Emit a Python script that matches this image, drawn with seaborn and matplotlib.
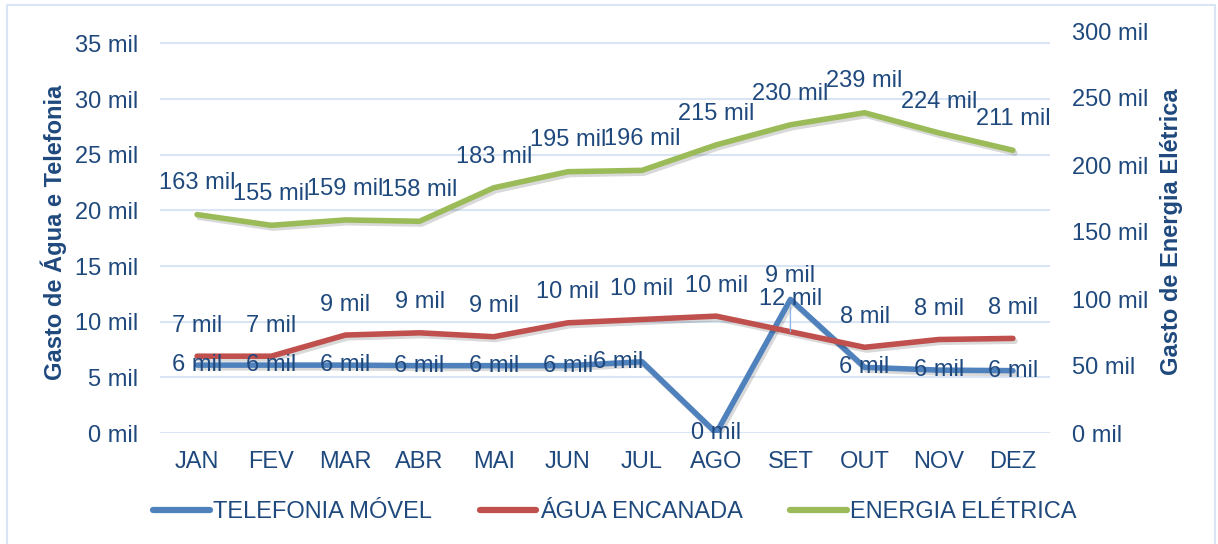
import numpy as np
import pandas as pd
import matplotlib
matplotlib.use("Agg")
import matplotlib.pyplot as plt
import matplotlib.patheffects as pe
from matplotlib.patches import Rectangle
import seaborn as sns

MESES = ["JAN", "FEV", "MAR", "ABR", "MAI", "JUN", "JUL", "AGO", "SET", "OUT", "NOV", "DEZ"]
TELEFONIA = [6.1, 6.1, 6.1, 6.05, 6.05, 6.05, 6.4, 0.0, 12.0, 5.9, 5.65, 5.6]
AGUA = [6.9, 6.9, 8.8, 9.0, 8.65, 9.9, 10.2, 10.5, 9.1, 7.7, 8.4, 8.5]
ENERGIA = [163, 155, 159, 158, 183, 195, 196, 215, 230, 239, 224, 211]

LEFT_TICKS = [0, 5, 10, 15, 20, 25, 30, 35]
RIGHT_TICKS = [0, 50, 100, 150, 200, 250, 300]

AZUL = "#4F81BD"
VERMELHO = "#C0504D"
VERDE = "#9BBB59"
TEXTO = "#1F497D"
GRADE = "#D9E5F4"
FS = 17

sns.set_theme(style="white")
plt.rcParams["font.family"] = ["Liberation Sans", "DejaVu Sans"]

df = pd.DataFrame({"mes": MESES, "x": np.arange(len(MESES)),
                   "tel": TELEFONIA, "agua": AGUA, "energia": ENERGIA})

fig = plt.figure(figsize=(12.18, 5.44), dpi=100)
ax = fig.add_axes([160 / 1218, 1 - 433 / 544, 890 / 1218, 402 / 544])
ax2 = ax.twinx()

sombra = [pe.SimpleLineShadow(offset=(1.5, -2), alpha=0.15, shadow_color="black"), pe.Normal()]

sns.lineplot(data=df, x="x", y="tel", ax=ax, color=AZUL, lw=4, label="TELEFONIA MÓVEL",
             solid_capstyle="round", path_effects=sombra, legend=False)
sns.lineplot(data=df, x="x", y="agua", ax=ax, color=VERMELHO, lw=4, label="ÁGUA ENCANADA",
             solid_capstyle="round", path_effects=sombra, legend=False)
sns.lineplot(data=df, x="x", y="energia", ax=ax2, color=VERDE, lw=4, label="ENERGIA ELÉTRICA",
             solid_capstyle="round", path_effects=sombra, legend=False)

ax.set_xlim(-0.5, 11.5)
ax.set_ylim(0, 402 / 11.13)
ax2.set_ylim(0, 300)

ax.set_yticks(LEFT_TICKS)
ax.set_yticklabels([f"{v} mil" for v in LEFT_TICKS])
ax2.set_yticks(RIGHT_TICKS)
ax2.set_yticklabels([f"{v} mil" for v in RIGHT_TICKS])
ax.set_xticks(df["x"])
ax.set_xticklabels(MESES)

ax.grid(axis="y", color=GRADE, lw=1.5)
ax.set_axisbelow(True)
ax2.grid(False)
for a in (ax, ax2):
    for s in a.spines.values():
        s.set_visible(False)

ax.tick_params(axis="y", length=0, pad=16, labelsize=FS, labelcolor=TEXTO)
ax.tick_params(axis="x", length=0, pad=13, labelsize=FS, labelcolor=TEXTO)
ax2.tick_params(axis="y", length=0, pad=16, labelsize=FS, labelcolor=TEXTO)

ax.set_xlabel("")
ax.set_ylabel("Gasto de Água e Telefonia", fontsize=FS, fontweight="bold", color=TEXTO)
ax2.set_ylabel("Gasto de Energia Elétrica", fontsize=FS, fontweight="bold", color=TEXTO)
ax.yaxis.set_label_coords(-93 / 890, (433 - 232) / 402)
ax2.yaxis.set_label_coords(1 + 110 / 890, (433 - 232) / 402)

# rótulos de dados
for i, v in enumerate(TELEFONIA):
    dx = -17 if i == 6 else 0
    ax.annotate(f"{round(v)} mil", (i, v), xytext=(dx, 0), textcoords="offset points",
                ha="center", va="center", fontsize=FS, color=TEXTO)
for i, v in enumerate(AGUA):
    if i == 8:
        ax.annotate(f"{round(v)} mil", (i, v), xytext=(0, 40), textcoords="offset points",
                    ha="center", va="center", fontsize=FS, color=TEXTO,
                    arrowprops=dict(arrowstyle="-", color="#8EB4E3", lw=1, shrinkA=12, shrinkB=0))
    else:
        ax.annotate(f"{round(v)} mil", (i, v), xytext=(0, 22), textcoords="offset points",
                    ha="center", va="center", fontsize=FS, color=TEXTO)
for i, v in enumerate(ENERGIA):
    ax2.annotate(f"{v} mil", (i, v), xytext=(0, 22.5), textcoords="offset points",
                 ha="center", va="center", fontsize=FS, color=TEXTO)

h1, l1 = ax.get_legend_handles_labels()
h2, l2 = ax2.get_legend_handles_labels()
leg = fig.legend(h1 + h2, l1 + l2, loc="center", bbox_to_anchor=(615 / 1218, 1 - 512 / 544),
                 ncol=3, frameon=False, fontsize=FS, handlelength=2.4, handletextpad=0.15,
                 columnspacing=2.0)
for t in leg.get_texts():
    t.set_color(TEXTO)
for h in leg.legend_handles:
    h.set_path_effects([])
    h.set_solid_capstyle("round")
    h.set_linewidth(4.5)

fig.patches.append(Rectangle((7 / 1218, -0.01), 1208 / 1218, 1 - 5 / 544 + 0.01,
                             transform=fig.transFigure, fill=False, edgecolor=GRADE, lw=1.5))

fig.savefig("out.png", dpi=100)
